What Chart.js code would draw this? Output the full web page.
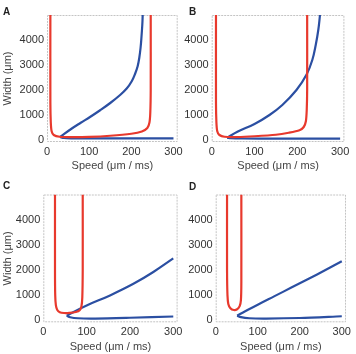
<!DOCTYPE html>
<html lang="en">
<head>
<meta charset="UTF-8" />
<title>Width vs speed</title>
<script src="https://cdn.jsdelivr.net/npm/chart.js"></script>
<style>
  body { margin: 0; background: #fff; }
  #wrap { position: relative; width: 356px; height: 354px; overflow: hidden; }
  canvas { position: absolute; }
  .tag { position: absolute; font: bold 10px "Liberation Sans", Arial, sans-serif; color: #222; }
</style>
</head>
<body>
<div id="wrap">
  <canvas id="chartA" width="196" height="177" style="left:0;top:0"></canvas>
  <canvas id="chartB" width="178" height="177" style="left:178px;top:0"></canvas>
  <canvas id="chartC" width="196" height="177" style="left:0;top:177px"></canvas>
  <canvas id="chartD" width="178" height="177" style="left:178px;top:177px"></canvas>
  <div class="tag" style="left:3px;top:6px">A</div>
  <div class="tag" style="left:189px;top:6px">B</div>
  <div class="tag" style="left:3px;top:180px">C</div>
  <div class="tag" style="left:189px;top:181px">D</div>
</div>
<script>
const xTicks = [0, 100, 200, 300];
const yTicks = [0, 1000, 2000, 3000, 4000];
const xTitle = "Speed (\u03bcm / ms)";
const yTitle = "Width (\u03bcm)";

// [speed, width] pairs
const redA = [[8,5000],[8,1500],[9,700],[11,350],[16,200],[30,130],[60,115],[100,125],[150,170],[200,250],[225,340],[238,480],[243,700],[245,1100],[246,2000],[246,5000]];
const blueUpA = [[227,5000],[226,4600],[224,4100],[222,3700],[219,3300],[215,2950],[209,2650],[201,2350],[189,2060],[172,1780],[150,1480],[126,1190],[102,920],[80,690],[58,450],[31,120]];
const blueLowA = [[31,120],[40,80],[60,68],[100,64],[200,62],[300,62]];

const redB = [[10,5000],[10,1500],[11,700],[13,350],[18,200],[30,130],[60,120],[100,150],[150,210],[180,290],[205,390],[215,520],[220,750],[222,1200],[223,2000],[223,5000]];
const blueUpB = [[253,5000],[249,4400],[243,3800],[235,3200],[222,2630],[198,2000],[165,1400],[135,1000],[100,640],[60,330],[36,90]];
const blueLowB = [[36,90],[45,70],[70,60],[150,55],[300,55]];

const redC = [[27,5000],[27,2000],[27.5,1000],[29,600],[32,420],[38,320],[48,290],[60,295],[75,330],[84,400],[88,550],[90,900],[91,2000],[91,5000]];
const blueUpC = [[54,180],[70,330],[100,590],[154,990],[208,1450],[254,1920],[300,2460]];
const blueLowC = [[54,180],[62,120],[80,80],[120,70],[200,100],[300,150]];

const redD = [[27,5000],[27,2000],[28,1000],[30,650],[35,480],[43,410],[51,440],[57,560],[60,800],[61,1500],[61,5000]];
const blueUpD = [[51,185],[65,310],[100,620],[140,960],[180,1300],[220,1640],[260,1990],[300,2350]];
const blueLowD = [[51,185],[60,125],[80,80],[120,68],[200,90],[300,160]];

const toPoints = arr => arr.map(([x, y]) => ({ x, y }));
const font = { family: "'Liberation Sans', Arial, sans-serif", size: 11 };

// light dotted frame round the plot area
const framePlugin = {
  id: "frame",
  beforeDatasetsDraw(chart) {
    const { ctx, chartArea: a } = chart;
    ctx.save();
    ctx.strokeStyle = "#c4c4c4";
    ctx.lineWidth = 1;
    ctx.setLineDash([2, 1]);
    ctx.strokeRect(a.left + 0.5, a.top + 0.5, a.right - a.left - 1, a.bottom - a.top - 1);
    ctx.restore();
  }
};

function line(data, color, tension) {
  return {
    data: toPoints(data),
    showLine: true,
    borderColor: color,
    borderWidth: 2.2,
    pointRadius: 0,
    tension: tension,
    fill: false
  };
}

function makePanel(id, red, blueUp, blueLow, box) {
  const canvas = document.getElementById(id);
  new Chart(canvas, {
    type: "scatter",
    data: {
      datasets: [
        line(red, "#e8392d", 0.25),
        line(blueUp, "#2b4fa2", 0.4),
        line(blueLow, "#2b4fa2", 0.3)
      ]
    },
    plugins: [framePlugin],
    options: {
      responsive: false,
      devicePixelRatio: 1,
      animation: false,
      layout: { padding: { left: 0, top: box.top, right: canvas.width - box.right, bottom: 0 } },
      plugins: { legend: { display: false }, tooltip: { enabled: false } },
      scales: {
        x: {
          type: "linear",
          min: 0,
          max: 310,
          afterBuildTicks: axis => { axis.ticks = xTicks.map(v => ({ value: v })); },
          afterFit: axis => { axis.height = 177 - box.bottom; axis.paddingLeft = 0; axis.paddingRight = 0; },
          grid: { display: false, drawTicks: false },
          border: { display: false },
          ticks: { font, color: "#333", padding: 3, maxRotation: 0, autoSkip: false, callback: v => String(v) },
          title: { display: true, text: xTitle, font, color: "#444", padding: { top: 0, bottom: box.xTitlePad } }
        },
        y: {
          type: "linear",
          min: -80,
          max: 5000,
          afterBuildTicks: axis => { axis.ticks = yTicks.map(v => ({ value: v })); },
          afterFit: axis => { axis.width = box.left; axis.paddingTop = 0; axis.paddingBottom = 0; },
          grid: { display: false, drawTicks: false },
          border: { display: false },
          ticks: { font, color: "#333", padding: 3, autoSkip: false, callback: v => String(v) },
          title: { display: box.yTitle, text: yTitle, font, color: "#444", padding: { top: 1, bottom: 0 } }
        }
      }
    }
  });
}

makePanel("chartA", redA, blueUpA, blueLowA, { left: 47, right: 177.7, top: 15, bottom: 142, xTitlePad: 4.4, yTitle: true });
makePanel("chartB", redB, blueUpB, blueLowB, { left: 33.7, right: 166.4, top: 15, bottom: 142, xTitlePad: 4.4, yTitle: false });
makePanel("chartC", redC, blueUpC, blueLowC, { left: 43.3, right: 177.6, top: 17.5, bottom: 145.3, xTitlePad: 0.7, yTitle: true });
makePanel("chartD", redD, blueUpD, blueLowD, { left: 37.7, right: 168, top: 17.5, bottom: 145.3, xTitlePad: 0.7, yTitle: false });
</script>
</body>
</html>
